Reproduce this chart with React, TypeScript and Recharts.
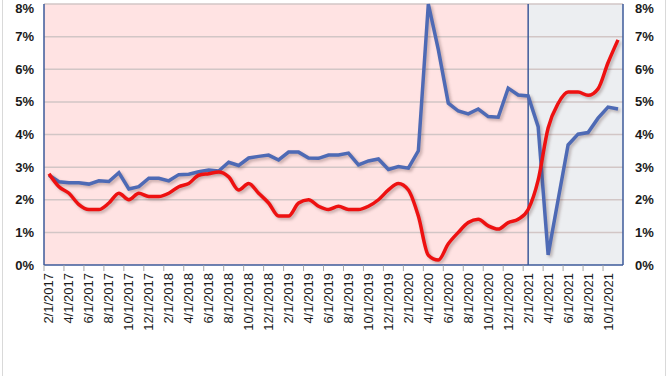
import React from 'react';
import {
  LineChart,
  Line,
  XAxis,
  YAxis,
  ReferenceArea,
  ReferenceLine,
} from 'recharts';

// months shown on the axis, Feb 2017 .. Nov 2021
const months: string[] = [];
for (let y = 2017; y <= 2021; y++) {
  for (let m = 1; m <= 12; m++) {
    if ((y === 2017 && m < 2) || (y === 2021 && m > 11)) continue;
    months.push(`${m}/1/${y}`);
  }
}

const redSeries = [
  2.8, 2.4, 2.2, 1.85, 1.7, 1.7, 1.9, 2.2, 2.0, 2.2, 2.1, 2.1,
  2.2, 2.4, 2.5, 2.75, 2.8, 2.85, 2.7, 2.3, 2.5, 2.2, 1.9, 1.5,
  1.5, 1.9, 2.0, 1.8, 1.7, 1.8, 1.7, 1.7, 1.8, 2.0, 2.3, 2.5,
  2.3, 1.5, 0.3, 0.15, 0.65, 1.0, 1.3, 1.4, 1.2, 1.1, 1.3, 1.4,
  1.7, 2.6, 4.2, 4.95, 5.3, 5.3, 5.2, 5.4, 6.2, 6.9,
];

const blueSeries = [
  2.75, 2.55, 2.52, 2.52, 2.48, 2.58, 2.56, 2.83, 2.33, 2.4, 2.66, 2.66,
  2.58, 2.77, 2.78, 2.86, 2.91, 2.88, 3.15, 3.05, 3.28, 3.33, 3.37, 3.22,
  3.46, 3.46, 3.28, 3.27, 3.37, 3.37, 3.43, 3.07, 3.19, 3.25, 2.93, 3.02,
  2.97, 3.5, 8.0, 6.6, 4.96, 4.72, 4.63, 4.78, 4.55, 4.53, 5.42, 5.21,
  5.18, 4.24, 0.31, 2.0, 3.68, 4.01, 4.06, 4.5, 4.84, 4.78,
];

const yTicks = [0, 1, 2, 3, 4, 5, 6, 7, 8];
const xTicks = months.map((_, i) => i).filter((i) => i % 2 === 0);
const splitMonth = months.indexOf('2/1/2021');

const data = months.map((m, i) => ({ i, label: m, red: redSeries[i], blue: blueSeries[i] }));

const W = 668;
const H = 376;
const PLOT_W = 579;
const HALF = PLOT_W / months.length / 2;
const AXIS = '#3d5a9a';

const XTick = (props: any) => {
  const { x, y, payload } = props;
  return (
    <g>
      <line x1={x - HALF} x2={x - HALF} y1={y} y2={y + 6} stroke="#a6a6a6" strokeWidth={1} />
      <text
        transform={`translate(${x}, ${y + 8}) rotate(-90)`}
        textAnchor="end"
        dominantBaseline="central"
        fontSize={13}
        fill="#1a1a1a"
      >
        {months[payload.value]}
      </text>
    </g>
  );
};

export default function App() {
  return (
    <div
      style={{
        position: 'absolute',
        left: 0,
        top: 0,
        width: W,
        height: H,
        background: '#fff',
        fontFamily: '"Liberation Sans", Arial, sans-serif',
        overflow: 'hidden',
      }}
    >
      <style>{`.recharts-line-curve { filter: drop-shadow(2px 2px 1.5px rgba(90,60,60,0.35)); }`}</style>
      <div style={{ position: 'absolute', left: 2, top: 0, width: 1, height: H, background: '#d9d9d9' }} />
      <div style={{ position: 'absolute', left: 665, top: 0, width: 1, height: H, background: '#d9d9d9' }} />
      <LineChart
        width={W}
        height={H}
        data={data}
        margin={{ top: 4, right: 0, left: 0, bottom: 41 }}
      >
        <XAxis
          dataKey="i"
          type="number"
          domain={[-0.5, months.length - 0.5]}
          ticks={xTicks}
          interval={0}
          height={70}
          tickSize={0}
          tickMargin={0}
          tickLine={false}
          axisLine={{ stroke: AXIS, strokeWidth: 1.5 }}
          tick={<XTick />}
        />
        <YAxis
          yAxisId="l"
          orientation="left"
          domain={[0, 8]}
          ticks={yTicks}
          width={44}
          tickSize={0}
          tickMargin={10}
          tickLine={false}
          axisLine={{ stroke: AXIS, strokeWidth: 1.5 }}
          tickFormatter={(v: number) => `${v}%`}
          tick={{ fontSize: 13, fontWeight: 700, fill: '#1a1a1a' }}
        />
        <YAxis
          yAxisId="r"
          orientation="right"
          domain={[0, 8]}
          ticks={yTicks}
          width={45}
          tickSize={0}
          tickMargin={12}
          tickLine={false}
          axisLine={{ stroke: AXIS, strokeWidth: 1.5 }}
          tickFormatter={(v: number) => `${v}%`}
          tick={{ fontSize: 13, fontWeight: 700, fill: '#1a1a1a' }}
        />
        <ReferenceArea
          yAxisId="l"
          x1={-0.5}
          x2={splitMonth}
          y1={0}
          y2={8}
          fill="#ffe3e3"
          fillOpacity={1}
          stroke="none"
        />
        <ReferenceArea
          yAxisId="l"
          x1={splitMonth}
          x2={months.length - 0.5}
          y1={0}
          y2={8}
          fill="#eceef1"
          fillOpacity={1}
          stroke="none"
        />
        {yTicks.slice(1).map((t) => (
          <ReferenceLine key={t} yAxisId="l" y={t} stroke="#d2c6c6" strokeWidth={1.5} />
        ))}
        <ReferenceLine yAxisId="l" x={splitMonth} stroke={AXIS} strokeWidth={1.5} />
        <Line
          yAxisId="r"
          type="linear"
          dataKey="blue"
          stroke="#4e6ab5"
          strokeWidth={3.5}
          dot={false}
          isAnimationActive={false}
        />
        <Line
          yAxisId="l"
          type="monotone"
          dataKey="red"
          stroke="#ee1111"
          strokeWidth={3.5}
          dot={false}
          isAnimationActive={false}
        />
      </LineChart>
    </div>
  );
}
